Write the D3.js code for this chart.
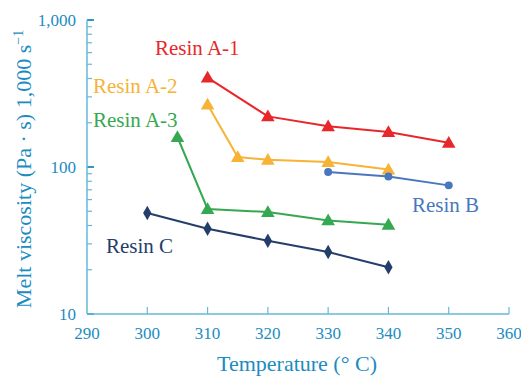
<!DOCTYPE html>
<html><head><meta charset="utf-8">
<script src="https://cdn.jsdelivr.net/npm/d3@7"></script>
<style>body{margin:0;background:#fff}svg{display:block}</style>
</head><body><svg id="c" width="521" height="378" font-family="'Liberation Serif', 'DejaVu Serif', 'Times New Roman', serif"></svg>
<script>
const xTicks = [290,300,310,320,330,340,350,360];
const yTicks = [10,100,1000];
const tempA1 = [310,320,330,340,350];
const viscA1 = [406,221,189,173,146];
const tempA2 = [310,315,320,330,340];
const viscA2 = [266,117,112,108,96];
const tempA3 = [305,310,320,330,340];
const viscA3 = [160,51.8,49.4,43.3,40.5];
const tempB = [330,340,350];
const viscB = [92.5,86.3,75];
const tempC = [300,310,320,330,340];
const viscC = [48.6,38,31.5,26.4,20.8];
const seriesNames = ["Resin A-1","Resin A-2","Resin A-3","Resin B","Resin C"];

const series = [
  {name:seriesNames[0], t:tempA1, v:viscA1, color:"#e8272b", shape:"tri", lx:155, ly:55},
  {name:seriesNames[1], t:tempA2, v:viscA2, color:"#f6b336", shape:"tri", lx:93, ly:93},
  {name:seriesNames[2], t:tempA3, v:viscA3, color:"#37a852", shape:"tri", lx:93, ly:127},
  {name:seriesNames[3], t:tempB, v:viscB, color:"#4877bd", shape:"circle", lx:412, ly:212},
  {name:seriesNames[4], t:tempC, v:viscC, color:"#243e6c", shape:"diamond", lx:106, ly:253}
];

const svg = d3.select("#c");
const x = d3.scaleLinear().domain([290,360]).range([87,509]);
const y = d3.scaleLog().domain([10,1000]).range([314,20]);
const axisCol = "#66b8da", textCol = "#1b8cc0";

// y axis
const yg = svg.append("g").attr("transform","translate(87,0)");
const minor = [];
[10,100].forEach(d=>{for(let k=2;k<=9;k++) minor.push(d*k);});
yg.selectAll("line.minor").data(minor).join("line")
  .attr("x1",0).attr("x2",5).attr("y1",d=>y(d)).attr("y2",d=>y(d))
  .attr("stroke",axisCol).attr("stroke-width",1.2);
yg.selectAll("line.major").data(yTicks).join("line")
  .attr("x1",0).attr("x2",7).attr("y1",d=>y(d)).attr("y2",d=>y(d))
  .attr("stroke","#1b8cc0").attr("stroke-width",1.8);
yg.append("line").attr("x1",0).attr("x2",0).attr("y1",y(1000)).attr("y2",y(10))
  .attr("stroke",axisCol).attr("stroke-width",1.5);
yg.selectAll("text").data(yTicks).join("text")
  .attr("x",-11).attr("y",d=>y(d)).attr("dy","0.35em").attr("text-anchor","end")
  .attr("fill",textCol).attr("font-size",17).text(d3.format(","));

// x axis
const xg = svg.append("g").attr("transform","translate(0,314)");
xg.append("line").attr("x1",x(290)).attr("x2",x(360)).attr("y1",0).attr("y2",0)
  .attr("stroke",axisCol).attr("stroke-width",1.5);
xg.selectAll("line.t").data(xTicks.slice(1)).join("line")
  .attr("x1",d=>x(d)).attr("x2",d=>x(d)).attr("y1",0).attr("y2",-7)
  .attr("stroke",axisCol).attr("stroke-width",1.2);
xg.selectAll("text").data(xTicks).join("text")
  .attr("x",d=>x(d)).attr("y",19).attr("dy","0.35em").attr("text-anchor","middle")
  .attr("fill",textCol).attr("font-size",17).text(d=>d);

// titles
svg.append("text").attr("x",297).attr("y",371).attr("text-anchor","middle")
  .attr("fill",textCol).attr("font-size",22).text("Temperature (° C)");
const yt = svg.append("text").attr("transform","translate(31,169) rotate(-90)")
  .attr("text-anchor","middle").attr("fill",textCol).attr("font-size",22);
yt.append("tspan").text("Melt viscosity (Pa · s) 1,000 s");
yt.append("tspan").attr("font-size",14).attr("dy",-8).text("−1");

// series
const line = d3.line().x(d=>x(d[0])).y(d=>y(d[1]));
series.forEach(s=>{
  const pts = s.t.map((t,i)=>[t,s.v[i]]);
  svg.append("path").datum(pts).attr("d",line).attr("fill","none")
    .attr("stroke",s.color).attr("stroke-width",2);
  const sym = s.shape==="tri" ? d3.symbol(d3.symbolTriangle,80)
            : s.shape==="circle" ? d3.symbol(d3.symbolCircle,50)
            : d3.symbol(d3.symbolDiamond,60);
  svg.selectAll(null).data(pts).join("path")
    .attr("transform",d=>`translate(${x(d[0])},${y(d[1])+(s.shape==="tri"?1:0)})`)
    .attr("d",sym).attr("fill",s.color);
  svg.append("text").attr("x",s.lx).attr("y",s.ly).attr("fill",s.color)
    .attr("font-size",21).text(s.name);
});
</script></body></html>
